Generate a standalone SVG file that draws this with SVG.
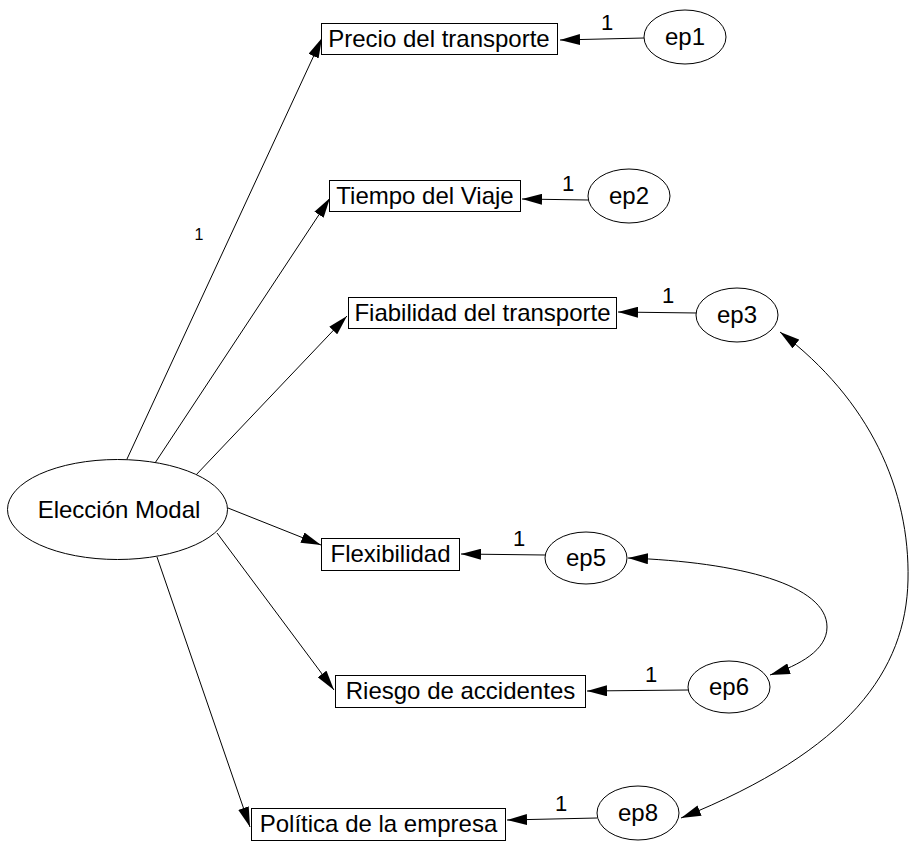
<svg xmlns="http://www.w3.org/2000/svg" width="910" height="842" viewBox="0 0 910 842">
<style>
.box{fill:#fff;stroke:#000;stroke-width:1}
.ell{fill:#fff;stroke:#000;stroke-width:1}
text{font-family:Arial,"Liberation Sans",Helvetica,sans-serif;fill:#000;text-anchor:middle}
.t{font-size:24px}
.w{font-size:22px}
.ws{font-size:16px}
.c{fill:none;stroke:#000;stroke-width:1}
</style>
<defs>
<marker id="ah" viewBox="0 0 20 11" refX="20" refY="5.5" markerWidth="20" markerHeight="11" markerUnits="userSpaceOnUse" orient="auto-start-reverse">
<path d="M0,0 L20,5.5 L0,11 z" fill="#000"/>
</marker>
</defs>
<rect width="910" height="842" fill="#fff"/>
<g id="connectors">
<line class="c" x1="127" y1="459" x2="322" y2="38" marker-end="url(#ah)"/>
<line class="c" x1="155" y1="463" x2="330" y2="198" marker-end="url(#ah)"/>
<line class="c" x1="195" y1="476" x2="347" y2="316" marker-end="url(#ah)"/>
<line class="c" x1="228" y1="508" x2="321" y2="545" marker-end="url(#ah)"/>
<line class="c" x1="217" y1="533" x2="334" y2="690" marker-end="url(#ah)"/>
<line class="c" x1="157" y1="557" x2="250" y2="827" marker-end="url(#ah)"/>
<line class="c" x1="644" y1="38" x2="560" y2="40" marker-end="url(#ah)"/>
<line class="c" x1="588" y1="200" x2="522" y2="199" marker-end="url(#ah)"/>
<line class="c" x1="697" y1="313" x2="618" y2="312" marker-end="url(#ah)"/>
<line class="c" x1="545" y1="555" x2="461" y2="554" marker-end="url(#ah)"/>
<line class="c" x1="688" y1="690" x2="587" y2="691" marker-end="url(#ah)"/>
<line class="c" x1="597" y1="818" x2="507" y2="820" marker-end="url(#ah)"/>
<path class="c" d="M628,558 C740,562 827,585 827,627 C827,650 800,665 770,675" marker-start="url(#ah)" marker-end="url(#ah)"/>
<path class="c" d="M780,332 C870,400 910,490 908,580 C906,670 850,750 681,818" marker-start="url(#ah)" marker-end="url(#ah)"/>
<text class="ws" x="199" y="240">1</text>
<text class="w" x="607" y="30">1</text>
<text class="w" x="568" y="191">1</text>
<text class="w" x="668" y="303">1</text>
<text class="w" x="519" y="546">1</text>
<text class="w" x="651" y="682">1</text>
<text class="w" x="561" y="811">1</text>
</g>
<g id="eleccion">
<ellipse class="ell" cx="117.5" cy="509.5" rx="110" ry="50"/>
<text class="t" x="119" y="518">Elección Modal</text>
</g>
<g id="precio">
<rect class="box" x="321.5" y="23.5" width="236" height="31"/>
<text class="t" x="439" y="47">Precio del transporte</text>
</g>
<g id="tiempo">
<rect class="box" x="329.5" y="180.5" width="191" height="31"/>
<text class="t" x="425" y="204">Tiempo del Viaje</text>
</g>
<g id="fiabilidad">
<rect class="box" x="348.5" y="297.5" width="268" height="31"/>
<text class="t" x="482.5" y="321">Fiabilidad del transporte</text>
</g>
<g id="flexibilidad">
<rect class="box" x="321.5" y="538.5" width="138" height="32"/>
<text class="t" x="390.5" y="562">Flexibilidad</text>
</g>
<g id="riesgo">
<rect class="box" x="335.5" y="675.5" width="250" height="32"/>
<text class="t" x="460.5" y="699">Riesgo de accidentes</text>
</g>
<g id="politica">
<rect class="box" x="251.5" y="808.5" width="254" height="32"/>
<text class="t" x="378.5" y="832">Política de la empresa</text>
</g>
<g id="ep1">
<ellipse class="ell" cx="685" cy="37" rx="41" ry="27"/>
<text class="t" x="685" y="45">ep1</text>
</g>
<g id="ep2">
<ellipse class="ell" cx="629" cy="196" rx="41" ry="27"/>
<text class="t" x="629" y="204">ep2</text>
</g>
<g id="ep3">
<ellipse class="ell" cx="737" cy="315" rx="41" ry="27"/>
<text class="t" x="737" y="323">ep3</text>
</g>
<g id="ep5">
<ellipse class="ell" cx="586" cy="558" rx="41" ry="26"/>
<text class="t" x="586" y="566">ep5</text>
</g>
<g id="ep6">
<ellipse class="ell" cx="729" cy="687" rx="41" ry="26"/>
<text class="t" x="729" y="695">ep6</text>
</g>
<g id="ep8">
<ellipse class="ell" cx="638" cy="813" rx="41" ry="27"/>
<text class="t" x="638" y="821">ep8</text>
</g>
</svg>
